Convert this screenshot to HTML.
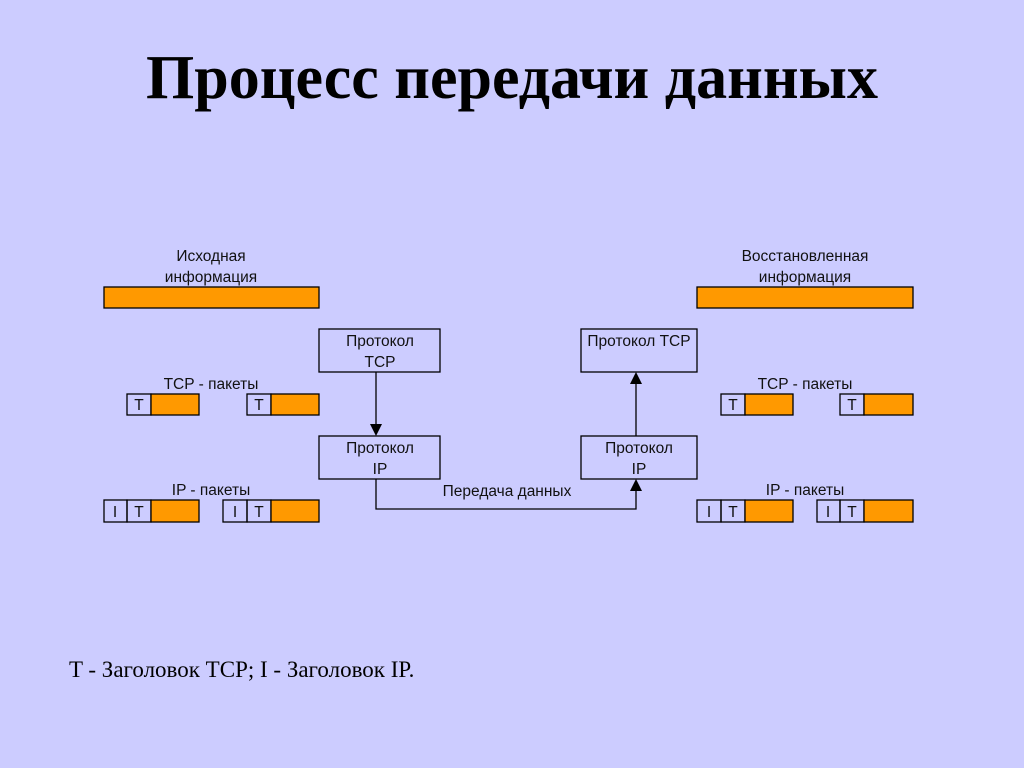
<!DOCTYPE html>
<html><head><meta charset="utf-8"><style>
body{margin:0;background:#ccccff;}
svg{display:block}
.s{font-family:"Liberation Sans",sans-serif;font-size:15.5px;fill:#111}
</style></head><body>
<svg width="1024" height="768" xmlns="http://www.w3.org/2000/svg">
<rect width="1024" height="768" fill="#ccccff"/>
<text x="512" y="98" text-anchor="middle" font-family="Liberation Serif,serif" font-weight="bold" font-size="62" fill="#000">Процесс передачи данных</text>
<g stroke="#000" stroke-width="1.3">
<rect x="104" y="287" width="215" height="21" fill="#ff9900"/>
<rect x="697" y="287" width="216" height="21" fill="#ff9900"/>
<rect x="319" y="329" width="121" height="43" fill="none"/>
<rect x="319" y="436" width="121" height="43" fill="none"/>
<rect x="581" y="329" width="116" height="43" fill="none"/>
<rect x="581" y="436" width="116" height="43" fill="none"/>
<rect x="127" y="394" width="24" height="21" fill="none"/><rect x="151" y="394" width="48" height="21" fill="#ff9900"/>
<rect x="247" y="394" width="24" height="21" fill="none"/><rect x="271" y="394" width="48" height="21" fill="#ff9900"/>
<rect x="721" y="394" width="24" height="21" fill="none"/><rect x="745" y="394" width="48" height="21" fill="#ff9900"/>
<rect x="840" y="394" width="24" height="21" fill="none"/><rect x="864" y="394" width="49" height="21" fill="#ff9900"/>
<rect x="104" y="500" width="23" height="22" fill="none"/><rect x="127" y="500" width="24" height="22" fill="none"/><rect x="151" y="500" width="48" height="22" fill="#ff9900"/>
<rect x="223" y="500" width="24" height="22" fill="none"/><rect x="247" y="500" width="24" height="22" fill="none"/><rect x="271" y="500" width="48" height="22" fill="#ff9900"/>
<rect x="697" y="500" width="24" height="22" fill="none"/><rect x="721" y="500" width="24" height="22" fill="none"/><rect x="745" y="500" width="48" height="22" fill="#ff9900"/>
<rect x="817" y="500" width="23" height="22" fill="none"/><rect x="840" y="500" width="24" height="22" fill="none"/><rect x="864" y="500" width="49" height="22" fill="#ff9900"/>
<line x1="376" y1="372" x2="376" y2="426"/>
<line x1="636" y1="436" x2="636" y2="382"/>
<polyline points="376,479 376,509 636,509 636,489" fill="none"/>
</g>
<polygon points="370,424 382,424 376,436" fill="#000"/>
<polygon points="630,384 642,384 636,372" fill="#000"/>
<polygon points="630,491 642,491 636,479" fill="#000"/>
<g class="s" text-anchor="middle">
<text x="211" y="261">Исходная</text><text x="211" y="282">информация</text>
<text x="805" y="261">Восстановленная</text><text x="805" y="282">информация</text>
<text x="380" y="346">Протокол</text><text x="380" y="367">TCP</text>
<text x="380" y="453">Протокол</text><text x="380" y="474">IP</text>
<text x="639" y="346">Протокол TCP</text>
<text x="639" y="453">Протокол</text><text x="639" y="474">IP</text>
<text x="211" y="389">TCP - пакеты</text><text x="805" y="389">TCP - пакеты</text>
<text x="211" y="495">IP - пакеты</text><text x="805" y="495">IP - пакеты</text>
<text x="507" y="496">Передача данных</text>
<text x="139" y="410">T</text><text x="259" y="410">T</text><text x="733" y="410">T</text><text x="852" y="410">T</text>
<text x="115" y="517">I</text><text x="139" y="517">T</text><text x="235" y="517">I</text><text x="259" y="517">T</text>
<text x="709" y="517">I</text><text x="733" y="517">T</text><text x="828" y="517">I</text><text x="852" y="517">T</text>
</g>
<text x="69" y="677" font-family="Liberation Serif,serif" font-size="23" fill="#000">T - Заголовок TCP; I - Заголовок IP.</text>
</svg>
</body></html>
